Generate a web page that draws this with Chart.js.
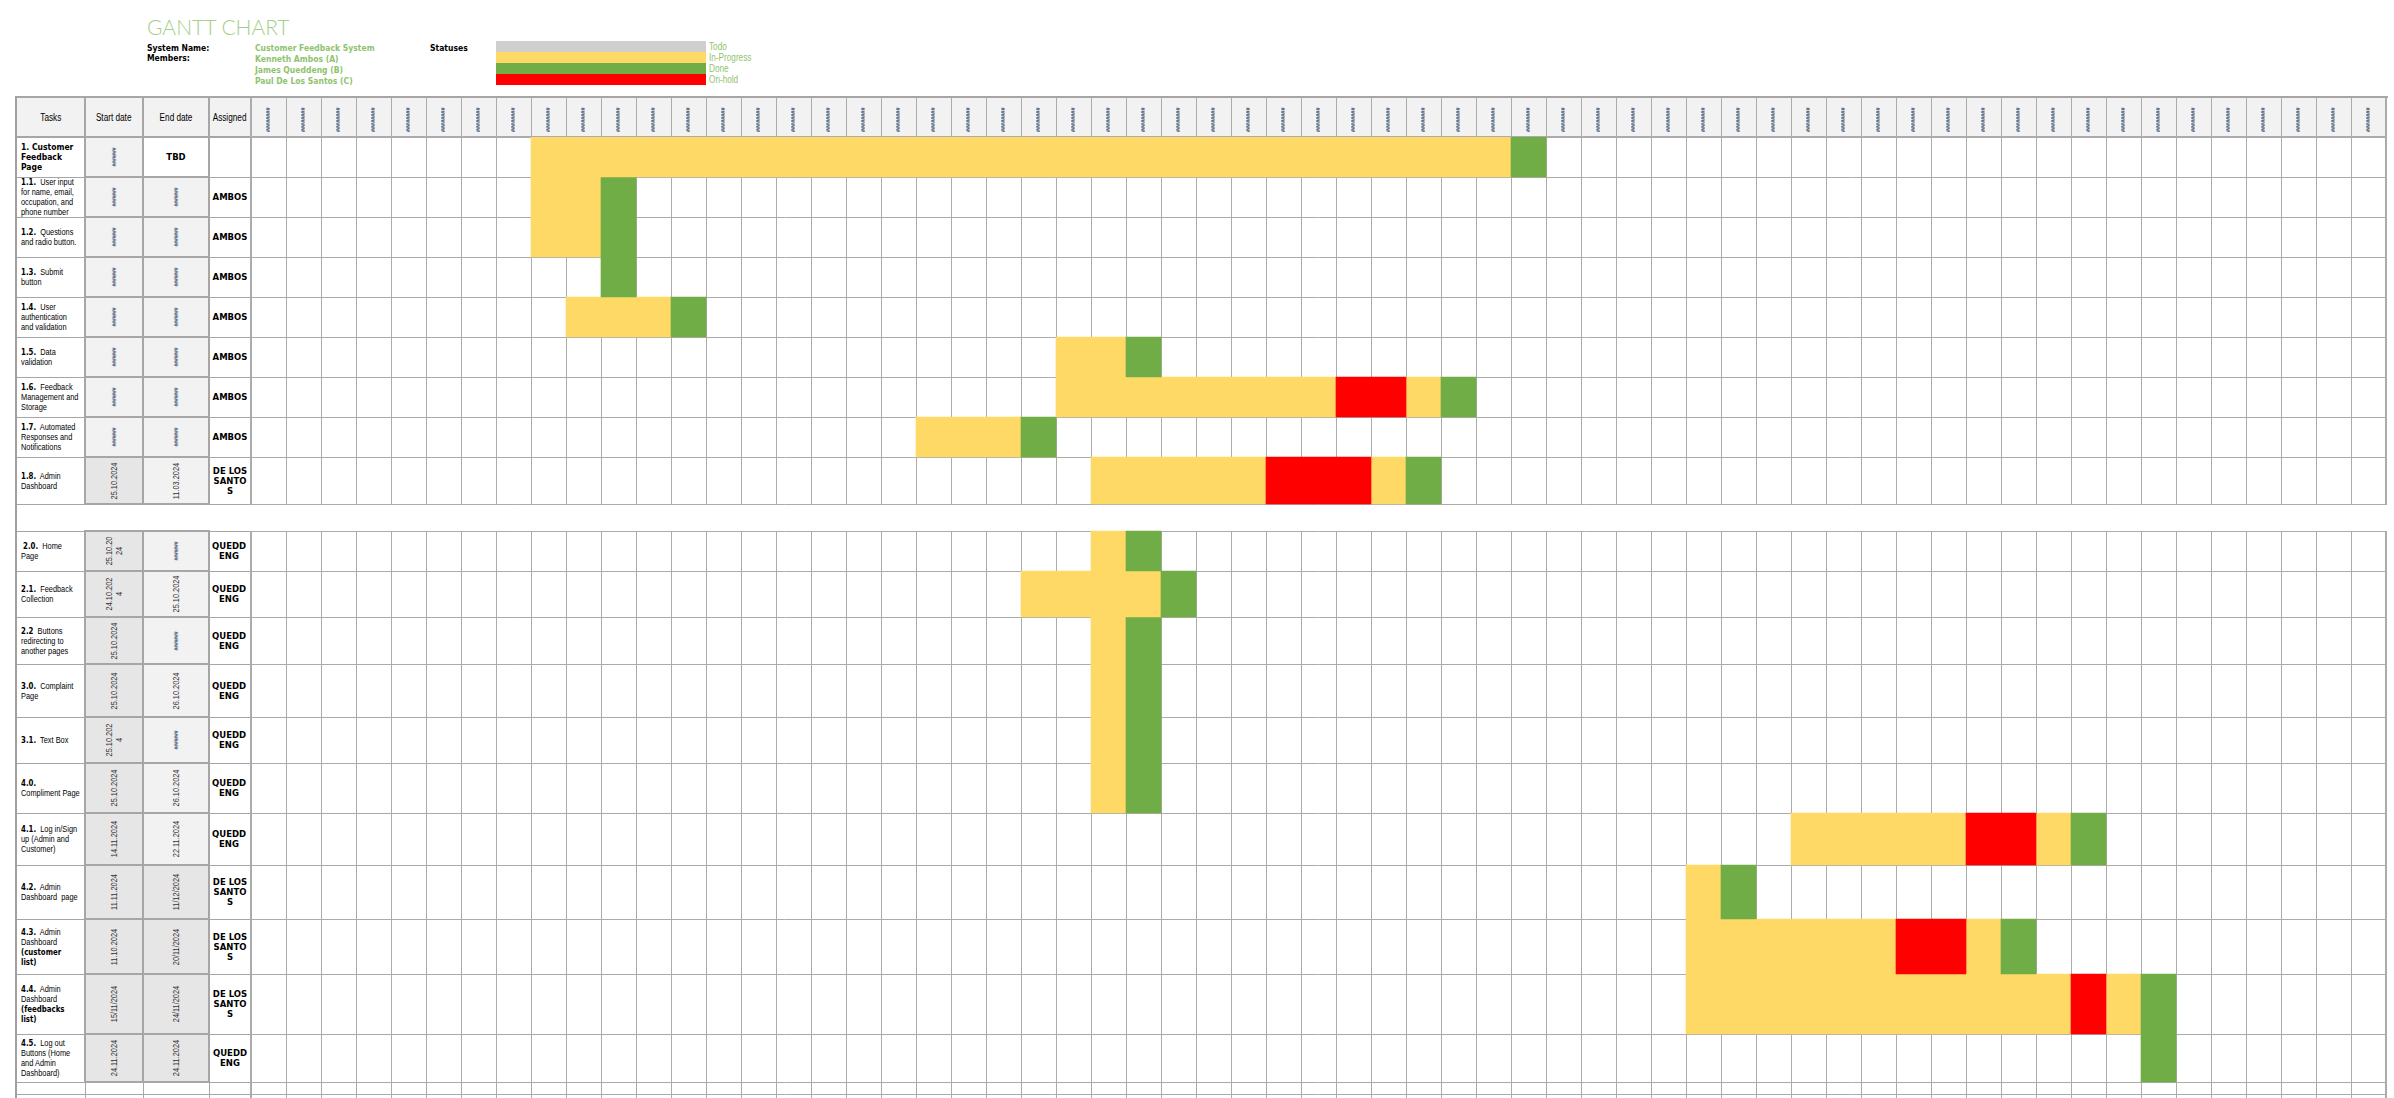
<!DOCTYPE html>
<html>
<head>
<meta charset="utf-8">
<script src="https://cdn.jsdelivr.net/npm/chart.js@4.4.1/dist/chart.umd.min.js"></script>
<style>
html,body{margin:0;padding:0;background:#fff;overflow:hidden;}
#page{position:relative;width:2394px;height:1098px;overflow:hidden;background:#fff;}
.a{position:absolute;box-sizing:border-box;}
.t{position:absolute;white-space:nowrap;line-height:12px;}
.cell{position:absolute;box-sizing:border-box;display:flex;align-items:center;overflow:hidden;}
.nx{font-family:'Liberation Sans',Arial,sans-serif;white-space:nowrap;}
.nl{transform:scaleX(0.82);transform-origin:0 50%;}
.nc{transform:scaleX(0.82);transform-origin:50% 50%;}
.rot{transform:rotate(-90deg) scaleX(0.82);white-space:pre;text-align:center;font-family:'Liberation Sans',Arial,sans-serif;}
.task b{font-family:'DejaVu Sans Condensed','DejaVu Sans',sans-serif;font-stretch:condensed;font-weight:bold;font-size:9.5px;}
#chart{position:absolute;left:241px;top:92px;}
</style>
</head>
<body>
<div id="page"></div>
<script>
// ---------------- data ----------------
const chartTitle = 'GANTT CHART';
const systemName = 'Customer Feedback System';
const members = ['Kenneth Ambos (A)', 'James Queddeng (B)', 'Paul De Los Santos (C)'];
const statuses = ['Todo', 'In-Progress', 'Done', 'On-hold'];
const columnHeaders = ['Tasks', 'Start date', 'End date', 'Assigned'];
const taskNumbers = ['1.', '1.1.', '1.2.', '1.3.', '1.4.', '1.5.', '1.6.', '1.7.', '1.8.', '',
  '2.0.', '2.1.', '2.2', '3.0.', '3.1.', '4.0.', '4.1.', '4.2.', '4.3.', '4.4.', '4.5.'];
const taskNames = ['Customer\nFeedback\nPage', 'User input\nfor name, email,\noccupation, and\nphone number',
  'Questions\nand radio button.', 'Submit\nbutton', 'User\nauthentication\nand validation', 'Data\nvalidation',
  'Feedback\nManagement and\nStorage', 'Automated\nResponses and\nNotifications', 'Admin\nDashboard', '',
  'Home\nPage', 'Feedback\nCollection', 'Buttons\nredirecting to\nanother pages', 'Complaint\nPage', 'Text Box',
  '\nCompliment Page', 'Log in/Sign\nup (Admin and\nCustomer)', 'Admin\nDashboard  page', 'Admin\nDashboard',
  'Admin\nDashboard', 'Log out\nButtons (Home\nand Admin\nDashboard)'];
const taskNotes = ['', '', '', '', '', '', '', '', '', '', '', '', '', '', '', '', '', '',
  '(customer\nlist)', '(feedbacks\nlist)', ''];
const startDates = ['########', '########', '########', '########', '########', '########', '########', '########',
  '25.10.2024', '', '25.10.20\n24', '24.10.202\n4', '25.10.2024', '25.10.2024', '25.10.202\n4', '25.10.2024',
  '14.11.2024', '11.11.2024', '11.10.2024', '15/11/2024', '24.11.2024'];
const endDates = ['TBD', '########', '########', '########', '########', '########', '########', '########',
  '11.03.2024', '', '########', '25.10.2024', '########', '26.10.2024', '########', '26.10.2024',
  '22.11.2024', '11/12/2024', '20/11/2024', '24/11/2024', '24.11.2024'];
const assigned = ['', 'AMBOS', 'AMBOS', 'AMBOS', 'AMBOS', 'AMBOS', 'AMBOS', 'AMBOS', 'DE LOS\nSANTO\nS', '',
  'QUEDD\nENG', 'QUEDD\nENG', 'QUEDD\nENG', 'QUEDD\nENG', 'QUEDD\nENG', 'QUEDD\nENG', 'QUEDD\nENG',
  'DE LOS\nSANTO\nS', 'DE LOS\nSANTO\nS', 'DE LOS\nSANTO\nS', 'QUEDD\nENG'];
const dayLabels = ['########','########','########','########','########','########','########','########',
  '########','########','########','########','########','########','########','########','########',
  '########','########','########','########','########','########','########','########','########',
  '########','########','########','########','########','########','########','########','########',
  '########','########','########','########','########','########','########','########','########',
  '########','########','########','########','########','########','########','########','########',
  '########','########','########','########','########','########','########','########'];
// segments: [task row, first day column, day column after the last]
const todo = [];
const inProgress = [[0,8,36],[1,8,10],[2,8,10],[4,9,12],[5,23,25],[6,23,31],[6,33,34],[7,19,22],[8,24,29],[8,32,33],
  [10,24,25],[11,22,26],[12,24,25],[13,24,25],[14,24,25],[15,24,25],[16,44,49],[16,51,52],[17,41,42],
  [18,41,47],[18,49,50],[19,41,52],[19,53,54]];
const done = [[0,36,37],[1,10,11],[2,10,11],[3,10,11],[4,12,13],[5,25,26],[6,34,35],[7,22,23],[8,33,34],
  [10,25,26],[11,26,27],[12,25,26],[13,25,26],[14,25,26],[15,25,26],[16,52,53],[17,42,43],[18,50,51],[19,54,55],[20,54,55]];
const onHold = [[6,31,33],[8,29,32],[16,49,51],[18,47,49],[19,52,53]];

// ---------------- layout / style ----------------
const statusColors = ['#D0CECE', '#FFD966', '#70AD47', '#FF0000'];
const rowEdges = [137,177,217,257,297,337,377,417,457,504,531,571,617,664,717,763,813,865,919,974,1034,1082,1094,1110];
const blankRow = 9;
const colX = [17, 85, 143, 209, 251];
const LINE = '#A6A6A6';
const GREEN = '#8FC36E';
const HASH = '#2B4566';

const page = document.getElementById('page');
function el(cls, css, html) {
  const d = document.createElement('div');
  d.className = cls; d.style.cssText = css;
  if (html != null) d.innerHTML = html;
  page.appendChild(d); return d;
}
function esc(s) { return s.replace(/&/g,'&amp;').replace(/</g,'&lt;').replace(/  /g,' &nbsp;').replace(/\n/g,'<br>'); }
function txt(x, cy, s, css, cls) { return el('t' + (cls ? ' ' + cls : ''), `left:${x}px;top:${cy-6}px;` + css, esc(s)); }

// title and info block
el('t', `left:147px;top:14px;line-height:22px;font:300 21px Lato,'Open Sans',sans-serif;color:#A4CF8A;`, chartTitle);
const boldSmall = `font-family:'DejaVu Sans Condensed','DejaVu Sans',sans-serif;font-stretch:condensed;font-weight:bold;font-size:8.5px;`;
txt(147, 47.7, 'System Name:', boldSmall + 'color:#000;');
txt(147, 58.3, 'Members:', boldSmall + 'color:#000;');
txt(255, 47.7, systemName, boldSmall + `color:${GREEN};`);
members.forEach((m, i) => txt(255, 58.5 + i * 11, m, boldSmall + `color:${GREEN};`));
txt(430, 47.7, 'Statuses', boldSmall + 'color:#000;');
statuses.forEach((s, i) => {
  el('a', `left:496px;top:${41 + i * 11}px;width:210px;height:11px;background:${statusColors[i]};`);
  txt(709, 47.3 + i * 11, s, `font-size:10px;color:${GREEN};`, 'nx nl');
});

// header of the table
el('a', `left:251px;top:97px;width:2135px;height:40px;background:#F2F2F2;`);
for (let c = 0; c < 4; c++) {
  el('cell', `left:${colX[c]}px;top:97px;width:${colX[c+1]-colX[c]}px;height:40px;background:#F2F2F2;justify-content:center;`,
    `<div class="nx nc" style="font-size:10px;color:#000;">${esc(columnHeaders[c])}</div>`);
}
el('a', `left:15px;top:96px;width:2373px;height:2px;background:${LINE};`);
el('a', `left:15px;top:136px;width:237px;height:2px;background:${LINE};`);
[85, 143, 209].forEach(x => el('a', `left:${x-1}px;top:97px;width:2px;height:40px;background:${LINE};`));
el('a', `left:15px;top:96px;width:2px;height:1002px;background:#A0A0A0;`);

function dateHtml(s) {
  if (s.startsWith('#')) return `<div class="rot" style="font-size:6px;font-weight:bold;line-height:6px;color:${HASH};">${esc(s.slice(0,7))}</div>`;
  if (s === 'TBD') return `<div style="font-family:'DejaVu Sans',sans-serif;font-weight:bold;font-size:8.5px;color:#000;">TBD</div>`;
  return `<div class="rot" style="font-size:9px;line-height:10px;color:#333;">${esc(s)}</div>`;
}

for (let r = 0; r < taskNumbers.length; r++) {
  const top = rowEdges[r], bot = rowEdges[r+1], h = bot - top;
  if (r === blankRow) {
    el('a', `left:17px;top:${bot}px;width:234px;height:1px;background:${LINE};`);
    continue;
  }
  let html;
  if (r === 0) html = `<b style="font-size:8.5px;">${esc(taskNumbers[r] + ' ' + taskNames[r])}</b>`;
  else {
    html = (r === 10 ? '&nbsp;' : '') + `<b>${esc(taskNumbers[r])}</b>`;
    if (taskNames[r]) html += (taskNames[r].startsWith('\n') ? '' : '&nbsp; ') + esc(taskNames[r]);
    if (taskNotes[r]) html += '<br><b>' + esc(taskNotes[r]) + '</b>';
  }
  el('cell task', `left:17px;top:${top}px;width:68px;height:${h}px;padding-left:4px;`,
    `<div class="${r === 0 ? '' : 'nx nl'}" style="font-size:9px;line-height:10px;color:#000;white-space:nowrap;${r === 0 ? 'font-family:DejaVu Sans;' : ''}">${html}</div>`);
  const sBg = r <= 7 ? '#F2F2F2' : '#E7E6E6';
  const eBg = r === 0 ? '#FFFFFF' : (r >= 17 ? '#E7E6E6' : '#F2F2F2');
  el('cell', `left:84px;top:${top-1}px;width:60px;height:${h+2}px;background:${sBg};border:2px solid ${LINE};justify-content:center;`, dateHtml(startDates[r]));
  el('cell', `left:142px;top:${top-1}px;width:68px;height:${h+2}px;background:${eBg};border:2px solid ${LINE};justify-content:center;`, dateHtml(endDates[r]));
  const leftAlign = (r >= 10 && r <= 16);
  el('cell', `left:210px;top:${top}px;width:40px;height:${h}px;justify-content:${leftAlign ? 'flex-start' : 'center'};padding-left:${leftAlign ? 2 : 0}px;`,
    `<div style="font-family:'DejaVu Sans',sans-serif;font-weight:bold;font-size:8.5px;line-height:10px;text-align:center;color:#000;white-space:nowrap;">${esc(assigned[r])}</div>`);
  el('a', `left:17px;top:${bot}px;width:68px;height:1px;background:${LINE};`);
  el('a', `left:209px;top:${bot}px;width:42px;height:1px;background:${LINE};`);
}
// empty rows at the bottom
for (let r = taskNumbers.length; r < rowEdges.length - 1; r++) {
  const top = rowEdges[r], bot = rowEdges[r+1];
  [85, 143, 209].forEach(x => el('a', `left:${x}px;top:${top}px;width:1px;height:${bot-top}px;background:${LINE};`));
  el('a', `left:17px;top:${bot}px;width:234px;height:1px;background:${LINE};`);
}

// ---------------- chart ----------------
const canvas = document.createElement('canvas');
canvas.id = 'chart'; canvas.width = 2153; canvas.height = 1006;
canvas.style.width = '2153px'; canvas.style.height = '1006px';
page.appendChild(canvas);

const series = [todo, inProgress, done, onHold];
const datasets = [];
for (let r = 0; r < taskNumbers.length; r++) {
  const pts = [];
  series.forEach((segs, s) => segs.forEach(([row, a, b]) => {
    if (row === r) pts.push({ x: [a, b], y: (rowEdges[r] + rowEdges[r+1]) / 2, s });
  }));
  if (!pts.length) continue;
  datasets.push({
    label: (taskNumbers[r] + ' ' + taskNames[r]).replace(/\n/g, ' '),
    data: pts, stack: 'rows',
    barThickness: rowEdges[r+1] - rowEdges[r],
    backgroundColor: c => (c.raw ? statusColors[c.raw.s] : '#000'),
    borderWidth: 0
  });
}
const blankMask = {
  id: 'blankMask',
  beforeDatasetsDraw(chart) {
    const y = chart.scales.y, a = chart.chartArea, ctx = chart.ctx;
    const t = Math.round(y.getPixelForValue(rowEdges[blankRow])) + 1;
    const b = Math.round(y.getPixelForValue(rowEdges[blankRow + 1]));
    ctx.save(); ctx.fillStyle = '#FFFFFF';
    ctx.fillRect(a.left - 3, t, a.right - a.left + 6, b - t);
    ctx.restore();
  }
};
const tickFontSize = 5.5;
Chart.defaults.font.family = "'Liberation Sans', Arial, sans-serif";
new Chart(canvas, {
  type: 'bar',
  data: { datasets },
  plugins: [blankMask],
  options: {
    indexAxis: 'y', responsive: false, animation: false, devicePixelRatio: 1, events: [],
    layout: { padding: { left: 10, right: 8, top: 5, bottom: 0 } },
    plugins: { legend: { display: false }, tooltip: { enabled: false } },
    scales: {
      x: {
        type: 'linear', position: 'top', min: 0, max: dayLabels.length, stacked: false, offset: false,
        afterBuildTicks: s => { s.ticks = dayLabels.map((_, i) => ({ value: i + 0.5 })); },
        afterFit: s => { s.height = 40; },
        grid: { offset: true, color: '#ABABAB', drawOnChartArea: true, drawTicks: true, tickLength: 40,
          lineWidth: c => (c.index === 0 || c.index === undefined) ? 2 : 1 },
        border: { display: false },
        ticks: { autoSkip: false, minRotation: 90, maxRotation: 90, padding: -35,
          labelOffset: tickFontSize * 1.2, font: { size: tickFontSize, weight: 'bold', lineHeight: 1.2 }, color: HASH,
          callback: (v, i) => dayLabels[i] }
      },
      y: {
        type: 'linear', min: rowEdges[0], max: 1098, reverse: true, offset: false,
        afterBuildTicks: s => { s.ticks = rowEdges.filter(v => v <= 1098).map(v => ({ value: v })); },
        afterFit: s => { s.width = 0; },
        grid: { offset: false, color: '#ABABAB', drawTicks: false, lineWidth: c => (c.index === 0 ? 2 : 1) },
        border: { display: false },
        ticks: { display: false }
      }
    }
  }
});
</script>
</body>
</html>
